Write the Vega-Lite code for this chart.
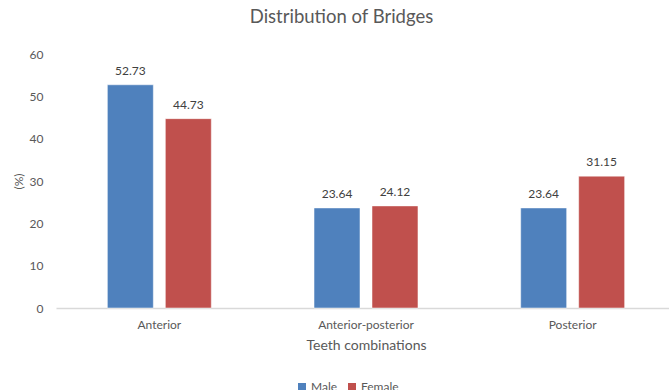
{
  "$schema": "https://vega.github.io/schema/vega-lite/v6.json",
  "autosize": {"type": "none"},
  "width": 613,
  "height": 254,
  "padding": {"left": 56, "top": 54, "right": 0, "bottom": 82},
  "background": "white",
  "config": {
    "font": "Lato",
    "view": {"stroke": null},
    "text": {"font": "Lato"}
  },
  "title": {
    "text": "Distribution of Bridges",
    "fontSize": 18.5,
    "fontWeight": "normal",
    "color": "#595959",
    "font": "Lato",
    "anchor": "middle",
    "dx": -21,
    "offset": 22
  },
  "data": {
    "values": [
      {"group": "Anterior", "sex": "Male", "pct": 52.73},
      {"group": "Anterior", "sex": "Female", "pct": 44.73},
      {"group": "Anterior-posterior", "sex": "Male", "pct": 23.64},
      {"group": "Anterior-posterior", "sex": "Female", "pct": 24.12},
      {"group": "Posterior", "sex": "Male", "pct": 23.64},
      {"group": "Posterior", "sex": "Female", "pct": 31.15}
    ]
  },
  "encoding": {
    "x": {
      "field": "group",
      "type": "nominal",
      "sort": ["Anterior", "Anterior-posterior", "Posterior"],
      "scale": {"range": [0, 620], "paddingInner": 0.497, "paddingOuter": 0.2485},
      "axis": {
        "title": "Teeth combinations",
        "labelAngle": 0,
        "labelFontSize": 12,
        "labelColor": "#595959",
        "labelPadding": 11,
        "titleFontSize": 14,
        "titleFontWeight": "normal",
        "titleColor": "#595959",
        "titlePadding": 8,
        "ticks": false,
        "domainColor": "#D9D9D9",
        "domainWidth": 1.5,
        "grid": false
      }
    },
    "xOffset": {
      "field": "sex",
      "type": "nominal",
      "sort": ["Male", "Female"],
      "scale": {"paddingInner": 0.207, "paddingOuter": 0}
    },
    "y": {
      "field": "pct",
      "type": "quantitative",
      "scale": {"domain": [0, 60]},
      "axis": {
        "title": "(%)",
        "values": [0, 10, 20, 30, 40, 50, 60],
        "labelFontSize": 12,
        "labelColor": "#595959",
        "labelPadding": 13,
        "titleFontSize": 12,
        "titleFontWeight": "normal",
        "titleColor": "#595959",
        "titleX": -38,
        "titleY": 127,
        "titleAngle": -90,
        "titleBaseline": "middle",
        "titleAlign": "center",
        "ticks": false,
        "domain": false,
        "grid": false
      }
    }
  },
  "layer": [
    {
      "mark": {"type": "bar", "stroke": "white", "strokeWidth": 0.5},
      "encoding": {
        "color": {
          "field": "sex",
          "type": "nominal",
          "sort": ["Male", "Female"],
          "scale": {"domain": ["Male", "Female"], "range": ["#4F81BD", "#C0504D"]},
          "legend": {
            "title": null,
            "orient": "none",
            "direction": "horizontal",
            "legendX": 240,
            "legendY": 327,
            "symbolType": "square",
            "symbolSize": 64,
            "symbolStrokeWidth": 0,
            "labelFontSize": 12,
            "labelColor": "#595959",
            "labelOffset": 3,
            "columnPadding": 8
          }
        }
      }
    },
    {
      "mark": {"type": "text", "baseline": "bottom", "dy": -7, "fontSize": 12, "color": "#404040"},
      "encoding": {
        "text": {"field": "pct", "type": "quantitative", "format": ".2f"}
      }
    }
  ]
}
